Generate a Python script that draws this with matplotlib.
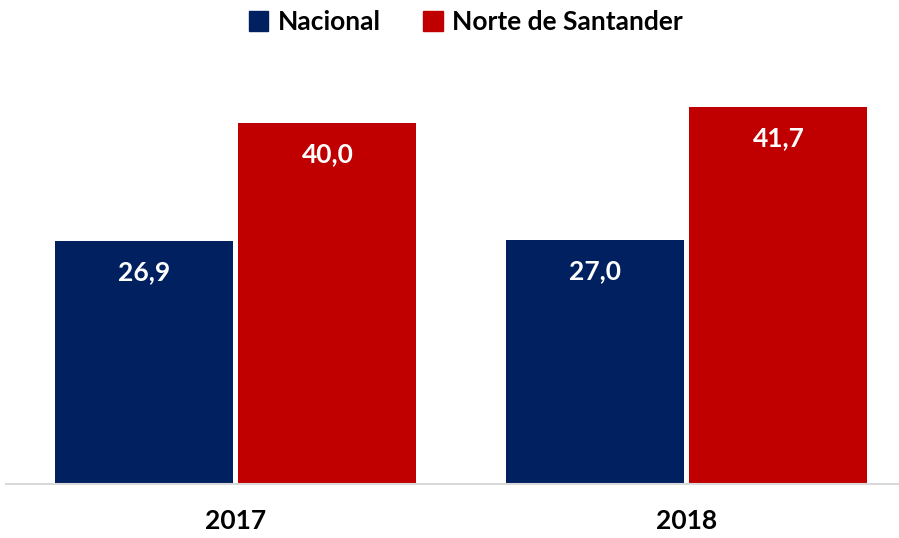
import matplotlib
matplotlib.use("Agg")
import matplotlib.pyplot as plt
import numpy as np
from matplotlib.patches import Patch

categories = ["2017", "2018"]
series_names = ["Nacional", "Norte de Santander"]
nacional = [26.9, 27.0]
norte = [40.0, 41.7]
labels_nacional = ["26,9", "27,0"]
labels_norte = ["40,0", "41,7"]
colors = ["#002060", "#C00000"]

plt.rcParams['font.family'] = ['Lato', 'DejaVu Sans']

W, H = 899, 538
fig = plt.figure(figsize=(W / 100, H / 100), dpi=100)
ax_left, ax_right = 6, 899
ax_top, ax_bottom = 60, 484
ax = fig.add_axes([ax_left / W, 1 - ax_bottom / H, (ax_right - ax_left) / W, (ax_bottom - ax_top) / H])

x = np.arange(len(categories))
bw = 0.395
gap = 0.012
pos1 = x - (bw + gap) / 2
pos2 = x + (bw + gap) / 2
b1 = ax.bar(pos1, nacional, width=bw, color=colors[0], zorder=2)
b2 = ax.bar(pos2, norte, width=bw, color=colors[1], zorder=2)

for rects, labs in ((b1, labels_nacional), (b2, labels_norte)):
    for r, lab in zip(rects, labs):
        ax.annotate(lab, (r.get_x() + r.get_width() / 2, r.get_height()),
                    xytext=(0, -31 * 0.72), textcoords="offset points",
                    ha="center", va="center", color="white",
                    fontsize=19, fontweight="bold")

ax.set_xlim(-0.509, 1.471)
ax.set_ylim(0, (ax_bottom - ax_top) / 9.03)
ax.set_xticks(x)
ax.set_xticklabels(categories, fontsize=19, fontweight="bold", color="black")
ax.tick_params(axis="x", length=0, pad=18)
ax.set_yticks([])
for s in ["top", "right", "left"]:
    ax.spines[s].set_visible(False)
ax.spines["bottom"].set_color("#D9D9D9")
ax.spines["bottom"].set_linewidth(1.5)

handles = [Patch(color=c) for c in colors]
fig.legend(handles, series_names, loc="center", bbox_to_anchor=(0.518, 0.959),
           ncol=2, frameon=False, prop={"size": 19, "weight": "bold"},
           handlelength=0.75, handleheight=0.75, handletextpad=0.35, columnspacing=1.6)

fig.savefig("out.png", dpi=100)
